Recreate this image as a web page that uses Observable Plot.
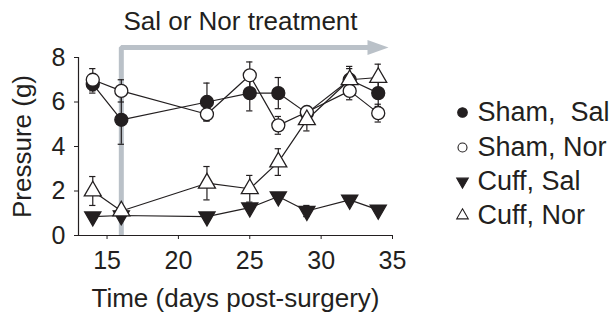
<!DOCTYPE html>
<html><head><meta charset="utf-8">
<script src="https://cdn.jsdelivr.net/npm/d3@7"></script>
<script src="https://cdn.jsdelivr.net/npm/@observablehq/plot@0.6"></script>
<style>body{margin:0;background:#fff}</style>
</head><body><div id="chart"></div>
<script>
// ---- data ----
const days = [14, 16, 22, 25, 27, 29, 32, 34];
const shamSal    = [6.8, 5.2, 6.0, 6.4, 6.4, 5.5, 7.0, 6.4];
const shamSalErr = [0.4, 1.1, 0.85, 0.8, 0.7, 0.2, 0.5, 0.6];
const shamNor    = [7.0, 6.5, 5.45, 7.2, 4.95, 5.55, 6.5, 5.5];
const shamNorErr = [0.5, 0.5, 0.3, 0.6, 0.4, 0.2, 0.4, 0.4];
const cuffSal    = [0.85, 0.9, 0.85, 1.25, 1.75, 1.1, 1.6, 1.15];
const cuffSalErr = [0.1, 0.1, 0.1, 0.15, 0.1, 0.25, 0.15, 0.1];
const cuffNor    = [2.0, 1.1, 2.35, 2.1, 3.3, 5.2, 7.0, 7.1];
const cuffNorErr = [0.65, 0.1, 0.75, 0.6, 0.6, 0.5, 0.6, 0.6];
const seriesNames = ["Sham,  Sal", "Sham, Nor", "Cuff, Sal", "Cuff, Nor"];
const xTicks = [15, 20, 25, 30, 35];
const yTicks = [0, 2, 4, 6, 8];
const treatmentDay = 16;
const arrowShaftEnd = 34.0;
const arrowTip = 34.72;
const arrowLevel = 8.45;
const titleText = "Sal or Nor treatment";
const xLabel = "Time (days post-surgery)";
const yLabel = "Pressure (g)";

// ---- styles ----
const ink = "#231f20";
const gray = "#bac1c8";
const styles = {
  "Sham,  Sal": {symbol: "circle", fill: ink, rotate: 0, r: 6.5, lr: 4.8},
  "Sham, Nor": {symbol: "circle", fill: "white", rotate: 0, r: 6.5, lr: 4.5},
  "Cuff, Sal": {symbol: "triangle", fill: ink, rotate: 180, r: 6, lr: 4.3},
  "Cuff, Nor": {symbol: "triangle", fill: "white", rotate: 0, r: 6.3, lr: 4.3}
};
const values = [shamSal, shamNor, cuffSal, cuffNor];
const errs = [shamSalErr, shamNorErr, cuffSalErr, cuffNorErr];
const rows = seriesNames.flatMap((s, k) => days.map((d, i) => ({series: s, x: d, y: values[k][i], e: errs[k][i]})));
const drawOrder = ["Cuff, Sal", "Sham,  Sal", "Sham, Nor", "Cuff, Nor"];

const arrowHead = {
  draw(ctx, size) {
    const r = Math.sqrt(size / Math.PI);
    ctx.moveTo(0, 0);
    ctx.lineTo(-2.1 * r, -0.75 * r);
    ctx.lineTo(-2.1 * r, 0.75 * r);
    ctx.closePath();
  }
};

const legendDy = [55, 90, 124, 158];

const marks = [
  Plot.line([{x: treatmentDay, y: 0}, {x: treatmentDay, y: arrowLevel}, {x: arrowShaftEnd, y: arrowLevel}],
    {x: "x", y: "y", stroke: gray, strokeWidth: 5, strokeLinejoin: "miter", strokeLinecap: "butt"}),
  Plot.dot([{x: arrowTip, y: arrowLevel}], {x: "x", y: "y", symbol: arrowHead, r: 10, fill: gray, stroke: null}),
  Plot.ruleX([13], {y1: 0, y2: 8, stroke: ink, strokeWidth: 1.2}),
  Plot.ruleY([0], {x1: 13, x2: 35, stroke: ink, strokeWidth: 1.2}),
  Plot.axisX(xTicks, {tickSize: 4, tickPadding: 12, fontSize: 25, label: null}),
  Plot.axisY(yTicks, {tickSize: 4, tickPadding: 9, fontSize: 25, label: null}),
  Plot.line(rows, {x: "x", y: "y", z: "series", stroke: ink, strokeWidth: 1.2}),
  Plot.ruleX(rows, {x: "x", y1: d => d.y - d.e, y2: d => d.y + d.e, stroke: ink, strokeWidth: 1.2}),
  Plot.ruleY(rows, {y: d => d.y + d.e, x1: d => d.x - 0.22, x2: d => d.x + 0.22, stroke: ink, strokeWidth: 1.2}),
  Plot.ruleY(rows, {y: d => d.y - d.e, x1: d => d.x - 0.22, x2: d => d.x + 0.22, stroke: ink, strokeWidth: 1.2}),
  ...drawOrder.map(s => Plot.dot(rows.filter(d => d.series === s), {
    x: "x", y: "y", symbol: styles[s].symbol, r: styles[s].r, rotate: styles[s].rotate,
    fill: styles[s].fill, stroke: ink, strokeWidth: 1.3
  })),
  Plot.text([titleText], {frameAnchor: "top", dx: 5, dy: -36, text: d => d, fontSize: 26, lineAnchor: "middle", fill: ink}),
  Plot.text([xLabel], {frameAnchor: "bottom", dy: 63, text: d => d, fontSize: 26, lineAnchor: "middle", fill: ink}),
  Plot.text([yLabel], {frameAnchor: "left", dx: -56, rotate: -90, text: d => d, fontSize: 26, textAnchor: "middle", lineAnchor: "middle", fill: ink}),
  ...seriesNames.map((s, i) => Plot.dot([s], {frameAnchor: "top-right", dx: 70, dy: legendDy[i],
    symbol: styles[s].symbol, r: styles[s].lr, rotate: styles[s].rotate, fill: styles[s].fill, stroke: ink, strokeWidth: 1.1})),
  ...seriesNames.map((s, i) => Plot.text([s], {frameAnchor: "top-right", dx: 85, dy: legendDy[i],
    text: d => d, textAnchor: "start", lineAnchor: "middle", fontSize: 27, fill: ink}))
];

const chart = Plot.plot({
  width: 614, height: 318,
  marginLeft: 78, marginRight: 222, marginTop: 57, marginBottom: 83,
  x: {domain: [13, 35], axis: null},
  y: {domain: [0, 8], axis: null},
  style: {fontFamily: "'Liberation Sans', Arial, sans-serif", fontSize: "25px", color: ink, background: "white", overflow: "visible"},
  marks
});
document.getElementById("chart").append(chart);
</script>
</body></html>
